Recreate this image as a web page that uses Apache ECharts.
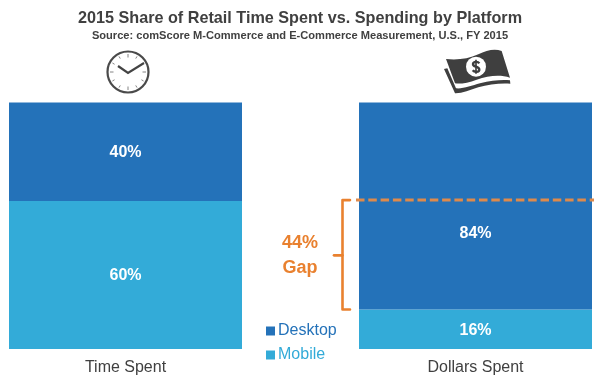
<!DOCTYPE html>
<html><head><meta charset="utf-8">
<style>html,body{margin:0;padding:0;background:#fff}#c{width:600px;height:380px}</style>
<script src="https://cdn.jsdelivr.net/npm/echarts@6/dist/echarts.min.js"></script>
</head><body><div id="c"></div>
<script>
const categories = ['Time Spent', 'Dollars Spent'];
const mobile = [60, 16];
const desktop = [40, 84];
const gapTop = 60;
const gapBottom = 16;
const gapLabel = ['44%', 'Gap'];

const DARK = '#404040', ORANGE = '#E9812F';
const chart = echarts.init(document.getElementById('c'), null, {renderer: 'canvas'});

const clock = [];
for (let i = 0; i < 12; i++) {
  const a = i * Math.PI / 6, r1 = i % 3 === 0 ? 14.5 : 15.5, r2 = 18;
  clock.push({type: 'line', shape: {x1: 128 + r1 * Math.sin(a), y1: 72 - r1 * Math.cos(a), x2: 128 + r2 * Math.sin(a), y2: 72 - r2 * Math.cos(a)}, style: {stroke: '#777', lineWidth: 0.9}});
}
const billMain = 'M48 42 C80 46 115 42 145 28 C170 15 195 10 215 18 L240 98 C210 88 175 92 140 104 C115 113 90 118 75 115 Z';
const billUnder = 'M42 72 L52 70 L78 130 C100 132 125 122 150 115 C185 106 215 104 240 106 L241 116 C210 114 175 118 145 127 C120 135 95 146 75 145 Z';
const dollar = 'M148 55 C144 49 130 49 129 57 C128 67 148 63 148 74 C148 82 133 82 128 76';

const barLabel = {show: true, position: 'inside', offset: [0, 1], formatter: '{c}%', color: '#fff', fontFamily: 'Liberation Sans', fontSize: 16, fontWeight: 'bold'};

chart.setOption({
  animation: false,
  title: [
    {text: '2015 Share of Retail Time Spent vs. Spending by Platform', left: 300, textAlign: 'center', top: 11, padding: 0,
     textStyle: {fontFamily: 'Liberation Sans', fontSize: 16.2, fontWeight: 'bold', color: DARK}},
    {text: 'Source: comScore M-Commerce and E-Commerce Measurement, U.S., FY 2015', left: 300, textAlign: 'center', top: 30, padding: 0,
     textStyle: {fontFamily: 'Liberation Sans', fontSize: 11.1, fontWeight: 'bold', color: DARK}}
  ],
  legend: {
    orient: 'vertical', left: 261, top: 318, itemWidth: 9, itemHeight: 9, itemGap: 8, icon: 'rect',
    data: [
      {name: 'Desktop', textStyle: {color: '#2472B9'}},
      {name: 'Mobile', textStyle: {color: '#33ABD8'}}
    ],
    textStyle: {fontFamily: 'Liberation Sans', fontSize: 16, padding: [0, 0, 0, -2]}
  },
  grid: {left: 125.5, width: 350, top: 102.5, bottom: 31},
  xAxis: {
    type: 'category', data: categories, boundaryGap: false,
    axisLine: {show: false}, axisTick: {show: false},
    axisLabel: {fontFamily: 'Liberation Sans', fontSize: 16, color: DARK, margin: 11}
  },
  yAxis: {type: 'value', min: 0, max: 100, show: false, splitLine: {show: false}},
  series: [
    {name: 'Mobile', type: 'bar', stack: 'a', barWidth: 233, clip: false, data: mobile,
     itemStyle: {color: '#33ABD8'}, label: barLabel},
    {name: 'Desktop', type: 'bar', stack: 'a', barWidth: 233, clip: false,
     data: desktop.map((v, i) => i === 1 ? {value: v, label: {offset: [0, 28]}} : v),
     itemStyle: {color: '#2472B9'}, label: barLabel},
    {type: 'custom', z: 10, silent: true, legendHoverLink: false, data: [[1, gapTop, gapBottom]],
     clip: false,
     encode: {x: 0, y: [1, 2]},
     renderItem(params, api) {
       const top = api.coord([1, api.value(1)]);
       const bot = api.coord([1, api.value(2)]);
       const bx = 342.5, tip = 350, mid = (top[1] + bot[1]) / 2, topY = top[1] - 1;
       const st = {stroke: ORANGE, lineWidth: 2.6, fill: null, lineCap: 'round', lineJoin: 'round'};
       return {type: 'group', children: [
         {type: 'line', shape: {x1: 356, y1: topY, x2: 594, y2: topY}, style: {stroke: '#DE8A4C', lineWidth: 3, lineDash: [8.5, 3.8]}},
         {type: 'polyline', shape: {points: [[tip, topY], [bx, topY], [bx, bot[1]], [tip, bot[1]]]}, style: st},
         {type: 'line', shape: {x1: 334, y1: mid, x2: bx, y2: mid}, style: st},
         {type: 'text', style: {x: 300, y: mid - 12, text: gapLabel[0], fill: ORANGE, font: 'bold 18px "Liberation Sans"', textAlign: 'center', textVerticalAlign: 'middle'}},
         {type: 'text', style: {x: 300, y: mid + 13, text: gapLabel[1], fill: ORANGE, font: 'bold 18px "Liberation Sans"', textAlign: 'center', textVerticalAlign: 'middle'}},
         {type: 'group', x: 430, y: 45, scaleX: 1/3, scaleY: 1/3, children: [
           {type: 'path', shape: {pathData: billMain}, style: {fill: '#3f3f3f'}},
           {type: 'path', shape: {pathData: billUnder}, style: {fill: '#3f3f3f'}},
           {type: 'circle', shape: {cx: 138, cy: 65, r: 30}, style: {fill: '#fff'}},
           {type: 'path', shape: {pathData: dollar}, style: {stroke: '#3f3f3f', lineWidth: 7, fill: null}},
           {type: 'line', shape: {x1: 138, y1: 44, x2: 138, y2: 86}, style: {stroke: '#3f3f3f', lineWidth: 5}}
         ]}
       ]};
     }}
  ],
  graphic: [
    {type: 'group', silent: true, children: [
      {type: 'circle', shape: {cx: 128, cy: 72, r: 20.5}, style: {stroke: '#4a4a4a', lineWidth: 2.2, fill: '#fff'}},
      ...clock,
      {type: 'polyline', shape: {points: [[118, 66], [128, 73], [144, 63]]}, style: {stroke: '#444', lineWidth: 2.2, fill: null}}
    ]}
  ]
});
</script></body></html>
